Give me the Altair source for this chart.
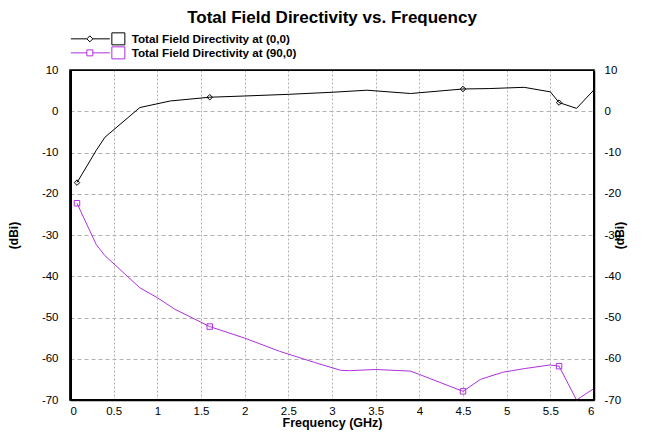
import altair as alt
import pandas as pd

# ---- data ----
series_names = ["Total Field Directivity at (0,0)", "Total Field Directivity at (90,0)"]
series_colors = ["#000000", "#b030e0"]
series_shapes = ["diamond", "square"]

freq_00 = [0.08, 0.3, 0.4, 0.8, 1.15, 1.6, 2.0, 2.5, 3.0, 3.4, 3.9, 4.5, 4.8, 5.2, 5.5, 5.6, 5.8, 6.0]
dir_00 = [-17.3, -9.5, -6.3, 0.9, 2.5, 3.4, 3.7, 4.1, 4.6, 5.1, 4.3, 5.4, 5.5, 5.8, 4.7, 2.1, 0.7, 5.2]

freq_90 = [0.08, 0.3, 0.4, 0.8, 1.0, 1.2, 1.6, 2.0, 2.4, 2.8, 3.1, 3.2, 3.5, 3.9, 4.0,
           4.5, 4.7, 4.95, 5.2, 5.5, 5.6, 5.8, 6.0]
dir_90 = [-22.3, -32.3, -35.0, -42.8, -45.2, -48.0, -52.2, -55.0, -58.2, -60.9, -62.8, -62.9, -62.6, -63.0, -63.8,
          -67.9, -65.0, -63.3, -62.4, -61.5, -61.8, -70.0, -67.2]

marker_freq = [0.08, 1.6, 4.5, 5.6]

x_range = [0, 6]
y_range = [-70, 10]
x_ticks = [0, 0.5, 1, 1.5, 2, 2.5, 3, 3.5, 4, 4.5, 5, 5.5, 6]
y_ticks = [10, 0, -10, -20, -30, -40, -50, -60, -70]

rows = []
for f, d in zip(freq_00, dir_00):
    rows.append({"freq": f, "dir": d, "series": series_names[0], "marker": f in marker_freq})
for f, d in zip(freq_90, dir_90):
    rows.append({"freq": f, "dir": d, "series": series_names[1], "marker": f in marker_freq})
df = pd.DataFrame(rows)
frame_df = pd.DataFrame({"x0": [x_range[0]], "x1": [x_range[1]], "y0": [y_range[0]], "y1": [y_range[1]]})

FONT = "Liberation Sans"
W, H = 524, 330

x_scale = alt.Scale(domain=x_range, nice=False, zero=False)
y_scale = alt.Scale(domain=y_range, nice=False, zero=False)
color_scale = alt.Scale(domain=series_names, range=series_colors)

# legend symbols: line + marker + checkbox, as custom paths (unit = 5px at size 100)
path_00 = "M-1,0H2.2M2.2,0L2.8,-0.6L3.4,0L2.8,0.6ZM3.4,0H6.8M7.2,-1.2H9.8V1.2H7.2Z"
path_90 = "M-1,0H2.2M2.2,-0.6H3.4V0.6H2.2ZM3.4,0H6.8M7.2,-1.2H9.8V1.2H7.2Z"
legend_shape_scale = alt.Scale(domain=series_names, range=[path_00, path_90])

x_axis = alt.Axis(
    values=x_ticks, format="~g", title="Frequency (GHz)",
    grid=True, gridDash=[2, 2], gridColor="#b0b0b0", gridWidth=1,
    ticks=False, labelPadding=5, domain=True, domainColor="#000000", domainWidth=1.5,
    labelFont=FONT, labelFontSize=11.5, labelColor="black",
    titleFont=FONT, titleFontSize=12.5, titleFontWeight="bold", titleColor="black", titlePadding=0,
)
y_axis_left = alt.Axis(
    values=y_ticks, labelExpr="'' + datum.value", title="(dBi)",
    grid=True, gridDash=[4, 3], gridColor="#b0b0b0", gridWidth=1,
    ticks=False, labelPadding=12, domain=True, domainColor="#000000", domainWidth=2,
    labelFont=FONT, labelFontSize=11.5, labelColor="black",
    titleFont=FONT, titleFontSize=12, titleFontWeight="bold", titleColor="black",
    titleAngle=270, titlePadding=21,
)
y_axis_right = alt.Axis(
    orient="right", values=y_ticks, labelExpr="'' + datum.value", title="(dBi)",
    grid=False, ticks=False, labelPadding=10, domain=True, domainColor="#000000", domainWidth=1.5,
    labelFont=FONT, labelFontSize=11.5, labelColor="black",
    titleFont=FONT, titleFontSize=12, titleFontWeight="bold", titleColor="black",
    titleAngle=270, titlePadding=6,
)

legend = alt.Legend(
    title=None, orient="none", legendX=0, legendY=-37, direction="vertical",
    symbolSize=100, rowPadding=-7, labelOffset=50, labelLimit=400, padding=0,
    symbolStrokeWidth=1, symbolOpacity=1,
    labelFont=FONT, labelFontSize=11.7, labelFontWeight="bold", labelColor="black",
)

base = alt.Chart(df)
X = alt.X("freq:Q", scale=x_scale, axis=x_axis)

# invisible layer that only carries the legend (first, so its legend settings win)
legend_layer = base.transform_filter("datum.marker").mark_point(filled=False, opacity=0).encode(
    x=X,
    y=alt.Y("dir:Q", scale=y_scale, axis=y_axis_left),
    color=alt.Color("series:N", scale=color_scale, legend=legend),
    shape=alt.Shape("series:N", scale=legend_shape_scale, legend=legend),
)

line_layers = []
marker_layers = []
for name, col, shp in zip(series_names, series_colors, series_shapes):
    sub = base.transform_filter(alt.datum.series == name)
    line_layers.append(
        sub.mark_line(strokeWidth=1, color=col).encode(
            x=X, y=alt.Y("dir:Q", scale=y_scale, axis=None),
        )
    )
    marker_layers.append(
        sub.transform_filter("datum.marker")
        .mark_point(filled=False, size=30, strokeWidth=1, shape=shp, color=col, opacity=1)
        .encode(x=X, y=alt.Y("dir:Q", scale=y_scale, axis=None))
    )

# plot frame (the box around the plotting area)
frame_src = alt.Chart(frame_df)
frame_layers = [
    frame_src.mark_rule(color="#000000", strokeWidth=1).encode(
        x=alt.value(0.5), x2=alt.value(W - 0.5), y=alt.value(0.5)),
    frame_src.mark_rule(color="#000000", strokeWidth=1).encode(
        x=alt.value(0.5), x2=alt.value(W - 0.5), y=alt.value(H - 0.5)),
    frame_src.mark_rule(color="#000000", strokeWidth=1).encode(
        x=alt.value(W - 0.5), y=alt.value(0.5), y2=alt.value(H - 0.5)),
    frame_src.mark_rule(color="#000000", strokeWidth=2).encode(
        x=alt.value(1), y=alt.value(0.5), y2=alt.value(H - 0.5)),
]

right_axis = base.mark_line(opacity=0).encode(
    x=X,
    y=alt.Y("dir:Q", scale=y_scale, axis=y_axis_right),
    detail="series:N",
)

chart = alt.layer(legend_layer, *line_layers, *marker_layers, *frame_layers, right_axis).resolve_axis(
    y="independent"
).properties(
    width=W,
    height=H,
    autosize=alt.AutoSizeParams(type="none"),
    padding={"left": 62, "top": 62, "right": 50, "bottom": 32},
    title=alt.TitleParams(
        "Total Field Directivity vs. Frequency", font=FONT, fontSize=17, fontWeight="bold",
        color="black", anchor="middle", frame="group", offset=6,
    ),
).configure_view(stroke="#000000", strokeWidth=1.5, strokeOpacity=1)

chart.save("out.html", embed_options={"renderer": "svg", "actions": False})
